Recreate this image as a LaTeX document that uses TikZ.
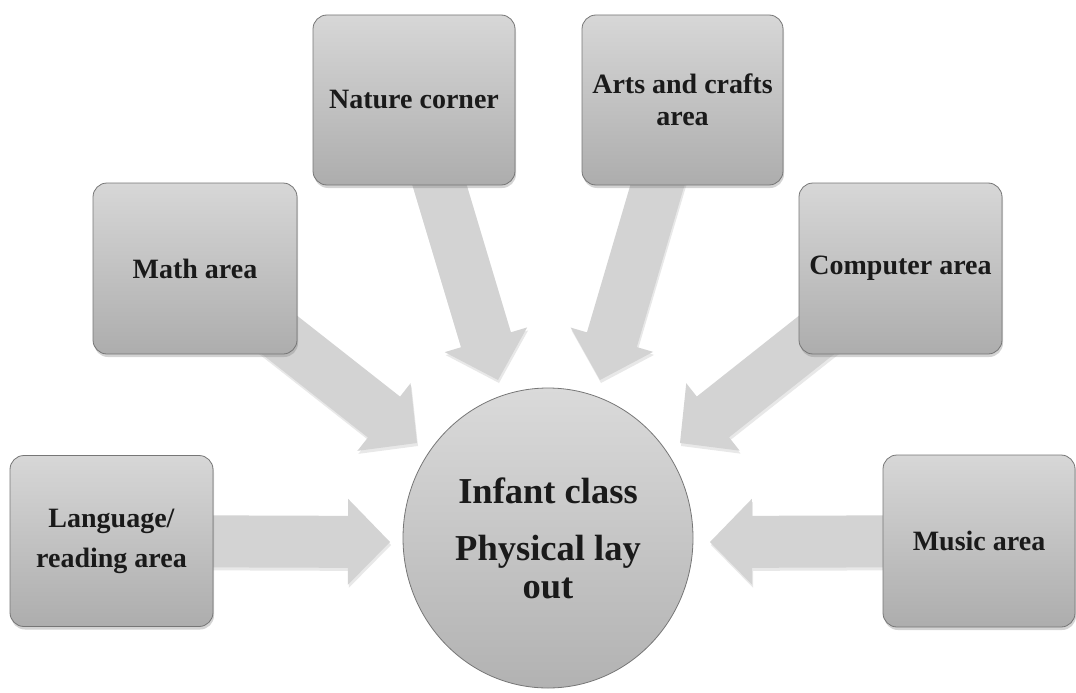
\documentclass[tikz,border=0pt]{standalone}
\usepackage{fontspec}
\setmainfont{Liberation Serif}
\usetikzlibrary{calc,shadows,shapes.geometric}
\definecolor{boxtop}{HTML}{D7D7D7}
\definecolor{boxbot}{HTML}{ADADAD}
\definecolor{boxline}{HTML}{767676}
\definecolor{hubtop}{HTML}{DADADA}
\definecolor{hubbot}{HTML}{B2B2B2}
\definecolor{arrowc}{HTML}{D3D3D3}
\definecolor{inkc}{HTML}{1A1A1A}
\pgfdeclarelayer{bg}
\pgfsetlayers{bg,main}
\tikzset{
  area/.style={draw=boxline, line width=0.8pt, rounded corners=14pt,
    top color=boxtop, bottom color=boxbot,
    minimum width=203pt, minimum height=171pt, inner sep=2pt,
    align=center, text=inkc, font=\bfseries\fontsize{28}{34}\selectfont,
    drop shadow={opacity=0.35, shadow xshift=1pt, shadow yshift=-3pt}},
  hub/.style={ellipse, draw=boxline, line width=0.8pt,
    top color=hubtop, bottom color=hubbot,
    minimum width=290pt, minimum height=300pt, inner sep=0pt,
    align=center, text=inkc, font=\bfseries\fontsize{36.5}{38}\selectfont},
  blockarrow/.style={fill=arrowc,
    drop shadow={opacity=0.18, shadow xshift=1pt, shadow yshift=-3pt}}
}
% #1 name, #2 start node, #3 tip coordinate
\newcommand\blockarr[3]{%
  \coordinate (#1-b) at ($(#3)!42pt!(#2.center)$);
  \fill[blockarrow] ($(#2.center)!26pt!90:(#3)$)
    -- ($(#1-b)!26pt!90:(#3)$) -- ($(#1-b)!43pt!90:(#3)$)
    -- (#3)
    -- ($(#1-b)!43pt!-90:(#3)$) -- ($(#1-b)!26pt!-90:(#3)$)
    -- ($(#2.center)!26pt!-90:(#3)$) -- cycle;}
\begin{document}
\begin{tikzpicture}[x=1pt,y=-1pt]
\useasboundingbox (0,0) rectangle (1076,693);

% boxes
\node[area, font=\bfseries\fontsize{28}{40}\selectfont] (lang) at (111.5,541) {Language/\\reading area};
\node[area, minimum width=204pt] (math) at (195,268.5) {Math area};
\node[area, minimum width=202pt, minimum height=170pt] (nature) at (414,100) {Nature corner};
\node[area, minimum width=201pt, minimum height=170pt, font=\bfseries\fontsize{28}{32}\selectfont] (arts) at (682.5,100) {Arts and crafts\\area};
\node[area] (comp) at (900.5,268.5) {Computer area};
\node[area, minimum width=192pt, minimum height=172pt] (music) at (979,541) {Music area};

% hub
\node[hub] (hub) at (548,538) {Infant class\\[19pt]Physical lay\\out};

% arrow tips
\coordinate (ltip) at (390,542);
\coordinate (mtip) at (417,443);
\coordinate (ntip) at (498,380);
\coordinate (atip) at (600,380);
\coordinate (ctip) at (680,443);
\coordinate (rtip) at (710,542);

\begin{pgfonlayer}{bg}
\blockarr{la}{lang}{ltip}
\blockarr{ma}{math}{mtip}
\blockarr{na}{nature}{ntip}
\blockarr{aa}{arts}{atip}
\blockarr{ca}{comp}{ctip}
\blockarr{ra}{music}{rtip}
\end{pgfonlayer}
\end{tikzpicture}
\end{document}
